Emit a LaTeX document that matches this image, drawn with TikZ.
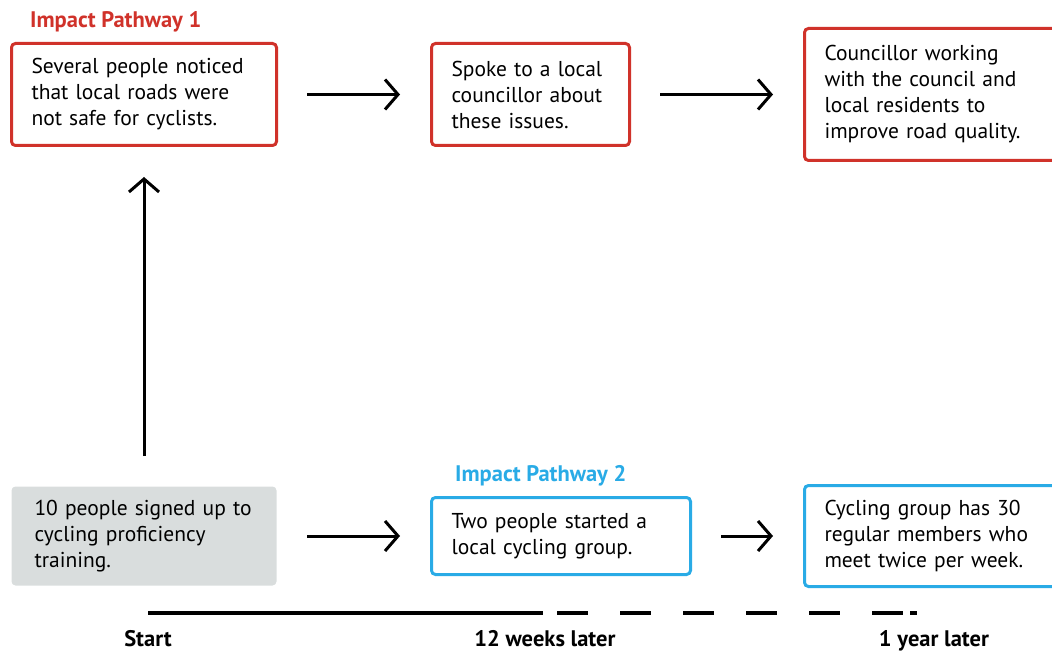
\documentclass[tikz,border=0pt]{standalone}
\usepackage{fontspec}
\setmainfont{PT Sans}
\usetikzlibrary{arrows.meta, positioning}
\definecolor{pathred}{RGB}{208,50,42}
\definecolor{pathblue}{RGB}{41,171,230}
\definecolor{boxgray}{RGB}{217,221,221}

\begin{document}
\begin{tikzpicture}[x=1pt, y=-1pt,
  card/.style={draw, line width=3pt, rounded corners=4pt, anchor=north west,
    inner xsep=20pt, inner ysep=0pt, align=left, text=black,
    font=\fontsize{21.5}{26}\selectfont},
  redcard/.style={card, draw=pathred},
  bluecard/.style={card, draw=pathblue},
  graycard/.style={card, draw=none, fill=boxgray, inner xsep=23pt},
  flow/.style={-{Straight Barb[length=13pt,width=30pt]}, line width=3pt,
    shorten <=29pt, shorten >=30pt},
  pathway/.style={anchor=west, inner sep=0pt, font=\fontsize{22.5}{24}\selectfont\bfseries},
  when/.style={anchor=base, inner sep=0pt, font=\fontsize{22.5}{24}\selectfont\bfseries},
  timeline/.style={line width=4pt}]

\clip (0,0) rectangle (1052,652);

% Impact pathway 1
\node[pathway, text=pathred] (title1) at (30,22) {Impact Pathway 1};
\node[redcard, minimum width=265pt, minimum height=102pt, text width=225pt]
  (noticed) at (10,42) {Several people noticed\\that local roads were\\not safe for cyclists.};
\node[redcard, minimum width=198pt, minimum height=102pt, text width=158pt]
  (spoke) at (430,42) {Spoke to a local\\councillor about\\these issues.};
\node[redcard, minimum width=280pt, minimum height=132pt, text width=240pt]
  (working) at (803,27) {Councillor working\\with the council and\\local residents to\\improve road quality.};

% Impact pathway 2
\node[graycard, minimum width=265pt, minimum height=99pt, text width=219pt]
  (signed) at (10,485) {10 people signed up to\\cycling proficiency\\training.};
\node[pathway, text=pathblue] (title2) at (455,476) {Impact Pathway 2};
\node[bluecard, minimum width=259pt, minimum height=77pt, text width=219pt]
  (group) at (430,496) {Two people started a\\local cycling group.};
\node[bluecard, minimum width=280pt, minimum height=101pt, text width=240pt]
  (members) at (803,484) {Cycling group has 30\\regular members who\\meet twice per week.};

% connectors
\draw[flow] (noticed.east) -- (spoke.west);
\draw[flow] (spoke.east) -- (working.west);
\draw[flow] (signed.north) -- (noticed.south);
\draw[flow] (signed.east) -- (group.west);
\draw[flow] (group.east) -- (members.west);

% timeline
\coordinate (t0) at (148,613);
\coordinate (t1) at (543,613);
\coordinate (t2) at (557,613);
\coordinate (t3) at (903,613);
\coordinate (t4) at (910,613);
\coordinate (t5) at (917,613);
\draw[timeline] (t0) -- (t1);
\draw[timeline, dash pattern=on 31pt off 32pt] (t2) -- (t3);
\draw[timeline] (t4) -- (t5);
\node[when] (start) at (148,646) {Start};
\node[when] (weeks) at (545,646) {12 weeks later};
\node[when] (year) at (934,646) {1 year later};

\end{tikzpicture}
\end{document}
